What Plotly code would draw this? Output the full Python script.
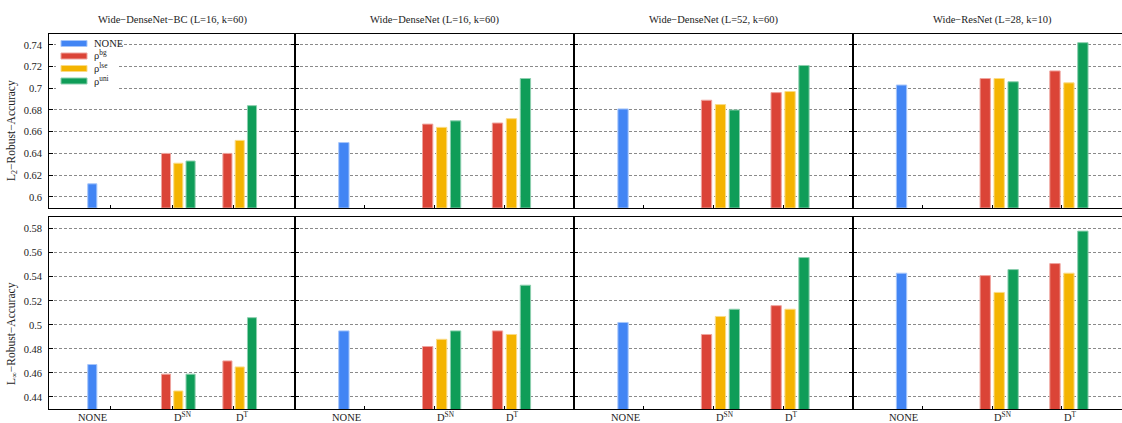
import plotly.graph_objects as go

# ---------------- data ----------------
models = ["Wide−DenseNet−BC (L=16, k=60)", "Wide−DenseNet (L=16, k=60)",
          "Wide−DenseNet (L=52, k=60)", "Wide−ResNet (L=28, k=10)"]
categories = ["NONE", "DSN", "DT"]
category_labels = ["NONE", "D<sup>SN</sup>", "D<sup>T</sup>"]
series_names = ["NONE", "ρ<sup>bg</sup>", "ρ<sup>lse</sup>", "ρ<sup>uni</sup>"]
metric_titles = ["L<sub>2</sub>−Robust−Accuracy", "L<sub>∞</sub>−Robust−Accuracy"]

# L2 robust accuracy (per model); rho series give [D^SN, D^T]
l2_none = [0.612, 0.650, 0.681, 0.703]
l2_bg = [[0.640, 0.640], [0.667, 0.668], [0.689, 0.696], [0.709, 0.716]]
l2_lse = [[0.631, 0.652], [0.664, 0.672], [0.685, 0.697], [0.709, 0.705]]
l2_uni = [[0.633, 0.684], [0.670, 0.709], [0.680, 0.721], [0.706, 0.742]]

# L-inf robust accuracy
linf_none = [0.467, 0.495, 0.502, 0.543]
linf_bg = [[0.459, 0.470], [0.482, 0.495], [0.492, 0.516], [0.541, 0.551]]
linf_lse = [[0.445, 0.465], [0.488, 0.492], [0.507, 0.513], [0.527, 0.543]]
linf_uni = [[0.459, 0.506], [0.495, 0.533], [0.513, 0.556], [0.546, 0.578]]

y_ticks_top = [0.6, 0.62, 0.64, 0.66, 0.68, 0.7, 0.72, 0.74]
y_ticks_bot = [0.44, 0.46, 0.48, 0.5, 0.52, 0.54, 0.56, 0.58]

# ---------------- style ----------------
W, H = 1122, 423
colors = ["#4285F4", "#DB4437", "#F4B400", "#0F9D58"]
edges = ["#A6C6FA", "#EFA49E", "#FADB85", "#8CCFAE"]
FONT = "Liberation Serif"
TXT = "#222"
panel_x = [49.3, 295.0, 574.3, 852.7, 1131.7]   # pixel edges (last one beyond the page)
row_y = [(34.0, 207.7), (216.7, 409.0)]         # pixel top/bottom
y_ranges = [[0.59, 0.75], [0.43, 0.59]]
label_pos = [(-0.03, "right"), (0.0, "left"), (0.0, "left")]
legend_rows = [43.5, 56.0, 68.5, 81.0]           # pixel centre of each legend swatch
LW = 1.3


def px_x(v):
    return v / W


def px_y(v):
    return 1 - v / H


fig = go.Figure()
layout = dict(
    width=W, height=H, autosize=False,
    margin=dict(l=0, r=0, t=0, b=0),
    paper_bgcolor="white", plot_bgcolor="white",
    barmode="group", bargap=0.2, bargroupgap=0.26,
    font=dict(family=FONT, size=11, color=TXT),
    showlegend=False,
)
annotations = []
shapes = []

data_rows = [(l2_none, l2_bg, l2_lse, l2_uni), (linf_none, linf_bg, linf_lse, linf_uni)]

for r in range(2):
    none_v, bg_v, lse_v, uni_v = data_rows[r]
    for c in range(4):
        idx = r * 4 + c + 1
        xa = "x" if idx == 1 else f"x{idx}"
        ya = "y" if idx == 1 else f"y{idx}"
        fig.add_trace(go.Bar(x=[categories[0]], y=[none_v[c]], xaxis=xa, yaxis=ya,
                             marker=dict(color=colors[0], line=dict(color=edges[0], width=1)),
                             name=series_names[0]))
        for k, vals in enumerate([bg_v, lse_v, uni_v], start=1):
            fig.add_trace(go.Bar(x=categories[1:], y=vals[c], xaxis=xa, yaxis=ya,
                                 marker=dict(color=colors[k], line=dict(color=edges[k], width=1)),
                                 name=series_names[k]))
        x0 = px_x(panel_x[c])
        x1 = min(1.0, px_x(panel_x[c + 1]))
        full = panel_x[c + 1] - panel_x[c]
        vis = min(W, panel_x[c + 1]) - panel_x[c]
        xr = [-1, -1 + 4 * vis / full]
        ytop, ybot = row_y[r]
        xkey = "xaxis" if idx == 1 else f"xaxis{idx}"
        ykey = "yaxis" if idx == 1 else f"yaxis{idx}"
        layout[xkey] = dict(
            domain=[x0, x1], anchor=ya, type="category",
            categoryorder="array", categoryarray=categories,
            range=xr, showgrid=False, zeroline=False,
            showline=True, linecolor="black", linewidth=LW, mirror=True,
            ticks="inside", ticklen=3, tickwidth=1, tickcolor="black",
            showticklabels=False, fixedrange=True,
        )
        layout[ykey] = dict(
            domain=[px_y(ybot), px_y(ytop)], anchor=xa,
            range=y_ranges[r], tickvals=y_ticks_top if r == 0 else y_ticks_bot,
            showgrid=True, gridcolor="#8a8a8a", gridwidth=1, griddash="3px,2px",
            zeroline=False, showline=True, linecolor="black", linewidth=LW,
            mirror="ticks" if c < 3 else False,
            ticks="inside", ticklen=4, tickwidth=1, tickcolor="black",
            showticklabels=(c == 0), ticklabelstandoff=4,
            tickfont=dict(family=FONT, size=10.5, color=TXT), fixedrange=True,
        )
        if r == 1:
            for j, lab in enumerate(category_labels):
                off, anc = label_pos[j]
                annotations.append(dict(
                    x=j + off, xref=xa, y=px_y(425), yref="paper",
                    text=lab, showarrow=False, xanchor=anc, yanchor="bottom",
                    font=dict(family=FONT, size=10.5, color=TXT)))
        if r == 0:
            cx = (panel_x[c] + panel_x[c + 1]) / 2
            annotations.append(dict(
                x=px_x(cx), xref="paper", y=px_y(20), yref="paper",
                text=models[c], showarrow=False, xanchor="center", yanchor="middle",
                font=dict(family=FONT, size=10.5, color=TXT)))

for r, cy in enumerate([131, 334]):
    annotations.append(dict(
        x=px_x(12), xref="paper", y=px_y(cy), yref="paper",
        text=metric_titles[r], showarrow=False, textangle=-90,
        xanchor="center", yanchor="middle",
        font=dict(family=FONT, size=11.5, color=TXT)))

# legend (drawn like the reference: wide flat swatches on a white box)
shapes.append(dict(type="rect", xref="paper", yref="paper",
                   x0=px_x(56), x1=px_x(118), y0=px_y(89), y1=px_y(37),
                   fillcolor="white", line=dict(width=0), layer="above"))
for k, yc in enumerate(legend_rows):
    shapes.append(dict(type="rect", xref="paper", yref="paper",
                       x0=px_x(61), x1=px_x(87), y0=px_y(yc + 3), y1=px_y(yc - 3),
                       fillcolor=colors[k], line=dict(color=edges[k], width=1), layer="above"))
    annotations.append(dict(
        x=px_x(92), xref="paper", y=px_y(yc + (0 if k == 0 else -1)), yref="paper",
        text=series_names[k], showarrow=False, xanchor="left", yanchor="middle",
        font=dict(family=FONT, size=10.5, color=TXT)))

layout["annotations"] = annotations
layout["shapes"] = shapes
fig.update_layout(**layout)
fig.write_html("out.html", config={"displayModeBar": False, "staticPlot": False},
               post_script="document.body.style.margin='0';document.body.style.padding='0';")
